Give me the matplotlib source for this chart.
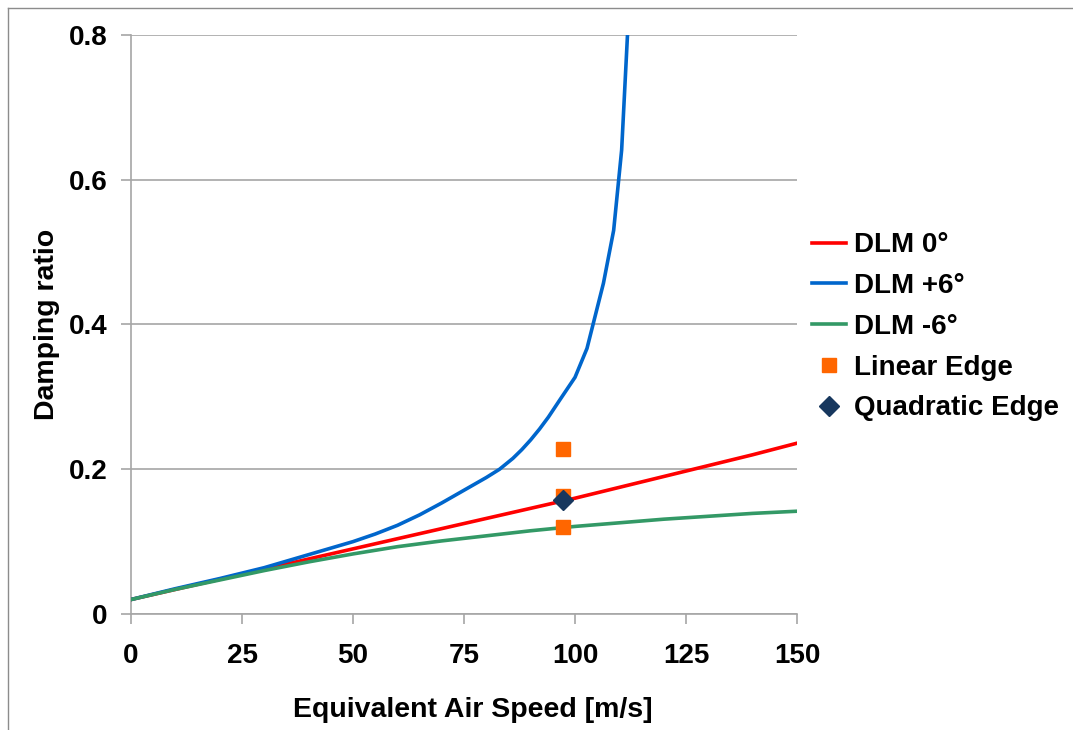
import numpy as np
import matplotlib.pyplot as plt
from matplotlib.lines import Line2D

plt.rcParams['font.family'] = ['Liberation Sans', 'DejaVu Sans']
plt.rcParams['font.weight'] = 'bold'

# DLM curves (equivalent air speed [m/s] -> damping ratio)
speed = [0, 10, 20, 30, 40, 50, 60, 70, 80, 90, 100, 110, 120, 130, 140, 150]
dlm_0 = [0.020, 0.034, 0.048, 0.062, 0.076, 0.090, 0.104, 0.118, 0.132, 0.146,
         0.160, 0.175, 0.190, 0.205, 0.220, 0.236]
dlm_m6 = [0.020, 0.034, 0.047, 0.060, 0.072, 0.083, 0.093, 0.101, 0.108, 0.115,
          0.121, 0.126, 0.131, 0.135, 0.139, 0.142]

speed_p6 = [0, 10, 20, 30, 35, 40, 45, 50, 55, 60, 65, 70, 75, 80, 83, 86, 88,
            90, 92, 94, 96.6, 100, 102.7, 106.4, 108.7, 110.5, 111.9]
dlm_p6 = [0.020, 0.035, 0.049, 0.064, 0.073, 0.082, 0.091, 0.100, 0.1105, 0.1225,
          0.137, 0.1535, 0.171, 0.1885, 0.200, 0.215, 0.227, 0.2405, 0.2555,
          0.272, 0.296, 0.327, 0.367, 0.457, 0.530, 0.641, 0.810]

# edge models at one test speed
edge_speed = 97.3
linear_edge = [0.228, 0.163, 0.120]
quadratic_edge = [0.158]

fig = plt.figure(figsize=(10.73, 7.30), dpi=100)
ax = fig.add_axes([0.1221, 0.1589, 0.6207, 0.7932])

ax.plot(speed, dlm_0, color='#FF0000', lw=2.6, label='DLM 0°', zorder=3)
ax.plot(speed_p6, dlm_p6, color='#0066CC', lw=2.6, label='DLM +6°', zorder=3)
ax.plot(speed, dlm_m6, color='#339966', lw=2.6, label='DLM -6°', zorder=3)
ax.plot([edge_speed] * len(linear_edge), linear_edge, 's', color='#FF6600',
        ms=9.5, mec='#FF6600', ls='none', label='Linear Edge', zorder=4)
ax.plot([edge_speed] * len(quadratic_edge), quadratic_edge, 'D', color='#17375E',
        ms=10, mec='#17375E', ls='none', label='Quadratic Edge', zorder=5)

ax.set_xlim(0, 150)
ax.set_ylim(0, 0.8)
ax.set_xticks([0, 25, 50, 75, 100, 125, 150])
ax.set_yticks([0, 0.2, 0.4, 0.6, 0.8])
ax.set_yticklabels(['0', '0.2', '0.4', '0.6', '0.8'])
ax.yaxis.grid(True, color='#A6A6A6', lw=1.2)
ax.set_axisbelow(True)

for s in ['top', 'right']:
    ax.spines[s].set_visible(False)
for s in ['left', 'bottom']:
    ax.spines[s].set_color('#A6A6A6')
    ax.spines[s].set_linewidth(1.2)

ax.tick_params(axis='y', colors='#A6A6A6', length=7, width=1.2, pad=10,
               labelcolor='black', labelsize=20)
ax.tick_params(axis='x', colors='#A6A6A6', length=7, width=1.2, pad=14,
               labelcolor='black', labelsize=20)
for lab in ax.get_xticklabels() + ax.get_yticklabels():
    lab.set_fontweight('bold')

ax.set_xlabel('Equivalent Air Speed [m/s]', fontsize=20.5, fontweight='bold')
ax.set_ylabel('Damping ratio', fontsize=20.5, fontweight='bold')
ax.xaxis.label.set_va('center')
ax.yaxis.label.set_va('center')
ax.xaxis.set_label_coords(0.513, -0.166)
ax.yaxis.set_label_coords(-0.126, 0.5)

leg = ax.legend(loc='center left', bbox_to_anchor=(1.006, 0.496), frameon=False,
                borderaxespad=0, handlelength=1.22, handletextpad=0.3,
                labelspacing=0.53, prop={'weight': 'bold', 'size': 20})

# outer chart frame (only top and left edges visible in the crop)
fig.add_artist(Line2D([8 / 1073, 1], [1 - 8 / 730, 1 - 8 / 730],
                      transform=fig.transFigure, color='#8C8C8C', lw=1))
fig.add_artist(Line2D([8 / 1073, 8 / 1073], [0, 1 - 8 / 730],
                      transform=fig.transFigure, color='#8C8C8C', lw=1))

fig.savefig('out.png', dpi=100)
